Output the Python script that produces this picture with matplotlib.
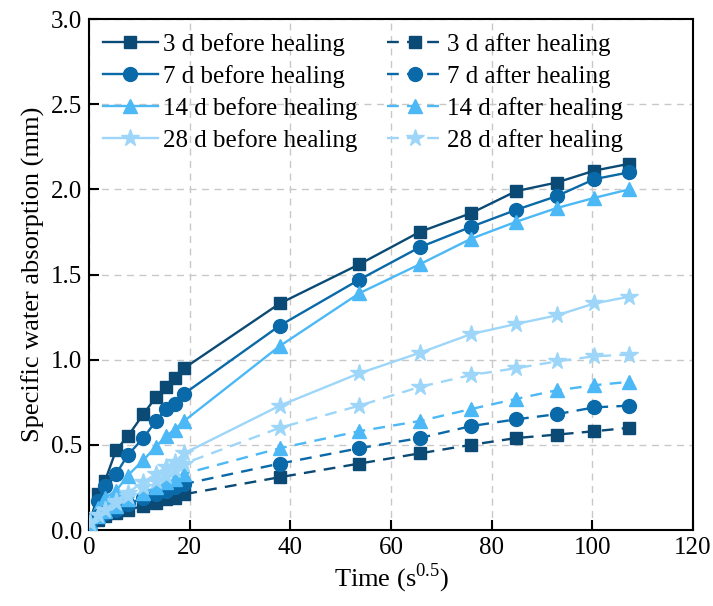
import matplotlib
matplotlib.use("Agg")
import matplotlib.pyplot as plt

plt.rcParams['font.family'] = ['Liberation Serif', 'DejaVu Serif']
plt.rcParams['mathtext.fontset'] = 'custom'
plt.rcParams['mathtext.rm'] = 'Liberation Serif'

# Time (s^0.5)
time = [0.3, 1.8, 3.2, 5.4, 7.7, 10.8, 13.3, 15.3, 17.0, 18.9,
        37.9, 53.7, 65.7, 75.9, 84.9, 92.9, 100.4, 107.3]

d3_before = [0.06, 0.21, 0.29, 0.47, 0.55, 0.68, 0.78, 0.84, 0.89, 0.95,
             1.33, 1.56, 1.75, 1.86, 1.99, 2.04, 2.11, 2.15]
d7_before = [0.05, 0.17, 0.26, 0.33, 0.44, 0.54, 0.64, 0.71, 0.74, 0.80,
             1.20, 1.47, 1.66, 1.78, 1.88, 1.96, 2.06, 2.10]
d14_before = [0.05, 0.13, 0.19, 0.23, 0.32, 0.41, 0.49, 0.55, 0.59, 0.64,
              1.08, 1.39, 1.56, 1.71, 1.81, 1.89, 1.95, 2.00]
d28_before = [0.04, 0.09, 0.12, 0.17, 0.22, 0.28, 0.33, 0.37, 0.40, 0.45,
              0.73, 0.92, 1.04, 1.15, 1.21, 1.26, 1.33, 1.37]

d3_after = [0.03, 0.06, 0.08, 0.10, 0.12, 0.14, 0.16, 0.18, 0.19, 0.21,
            0.31, 0.39, 0.45, 0.50, 0.54, 0.56, 0.58, 0.60]
d7_after = [0.04, 0.08, 0.10, 0.12, 0.15, 0.19, 0.21, 0.23, 0.25, 0.27,
            0.39, 0.48, 0.54, 0.61, 0.65, 0.68, 0.72, 0.73]
d14_after = [0.04, 0.08, 0.11, 0.14, 0.18, 0.22, 0.25, 0.28, 0.30, 0.33,
             0.48, 0.58, 0.64, 0.71, 0.77, 0.82, 0.85, 0.87]
d28_after = [0.04, 0.09, 0.12, 0.16, 0.20, 0.25, 0.29, 0.32, 0.35, 0.39,
             0.60, 0.73, 0.84, 0.91, 0.95, 0.99, 1.02, 1.03]

labels_before = ["3 d before healing", "7 d before healing",
                 "14 d before healing", "28 d before healing"]
labels_after = ["3 d after healing", "7 d after healing",
                "14 d after healing", "28 d after healing"]

colors = ["#0b4a75", "#0a69a8", "#4cb8f5", "#9dd6f8"]
markers = ["s", "o", "^", "*"]
msizes = [8.5, 10, 10, 13]

fig = plt.figure(figsize=(7.13, 6.06), dpi=100)
ax = fig.add_axes([0.1248, 0.1254, 0.972 - 0.1248, 0.9686 - 0.1254])

before = [d3_before, d7_before, d14_before, d28_before]
after = [d3_after, d7_after, d14_after, d28_after]

h_before = []
h_after = []
for i in range(4):
    hb, = ax.plot(time, before[i], color=colors[i], marker=markers[i],
                  markersize=msizes[i], linewidth=1.7, label=labels_before[i],
                  zorder=3)
    h_before.append(hb)
for i in range(4):
    ha, = ax.plot(time, after[i], color=colors[i], marker=markers[i],
                  markersize=msizes[i], linewidth=1.7, linestyle=(0, (5, 3.5)),
                  label=labels_after[i], zorder=3)
    h_after.append(ha)

ax.set_xlim(0, 120)
ax.set_ylim(0, 3.0)
ax.set_xticks([0, 20, 40, 60, 80, 100, 120])
ax.set_yticks([0.0, 0.5, 1.0, 1.5, 2.0, 2.5, 3.0])
ax.set_yticklabels(["0.0", "0.5", "1.0", "1.5", "2.0", "2.5", "3.0"])
ax.grid(True, color="#c8c8c8", linestyle=(0, (5, 4)), linewidth=1.0, zorder=0)
ax.set_axisbelow(True)
ax.tick_params(direction="in", length=7, width=1.5, labelsize=18,
               top=False, right=False, pad=5)
for s in ax.spines.values():
    s.set_linewidth(1.5)

ax.set_xlabel(r"Time (s$^{0.5}$)", fontsize=19, labelpad=2)
ax.set_ylabel("Specific water absorption (mm)", fontsize=19, labelpad=4)

leg = ax.legend(h_before + h_after, labels_before + labels_after, ncol=2,
                loc="upper left", frameon=False, fontsize=18,
                handlelength=2.2, handletextpad=0.2, columnspacing=1.2,
                labelspacing=0.36, borderaxespad=0.15,
                bbox_to_anchor=(0.0, 1.0))

fig.savefig("out.png", dpi=100)
